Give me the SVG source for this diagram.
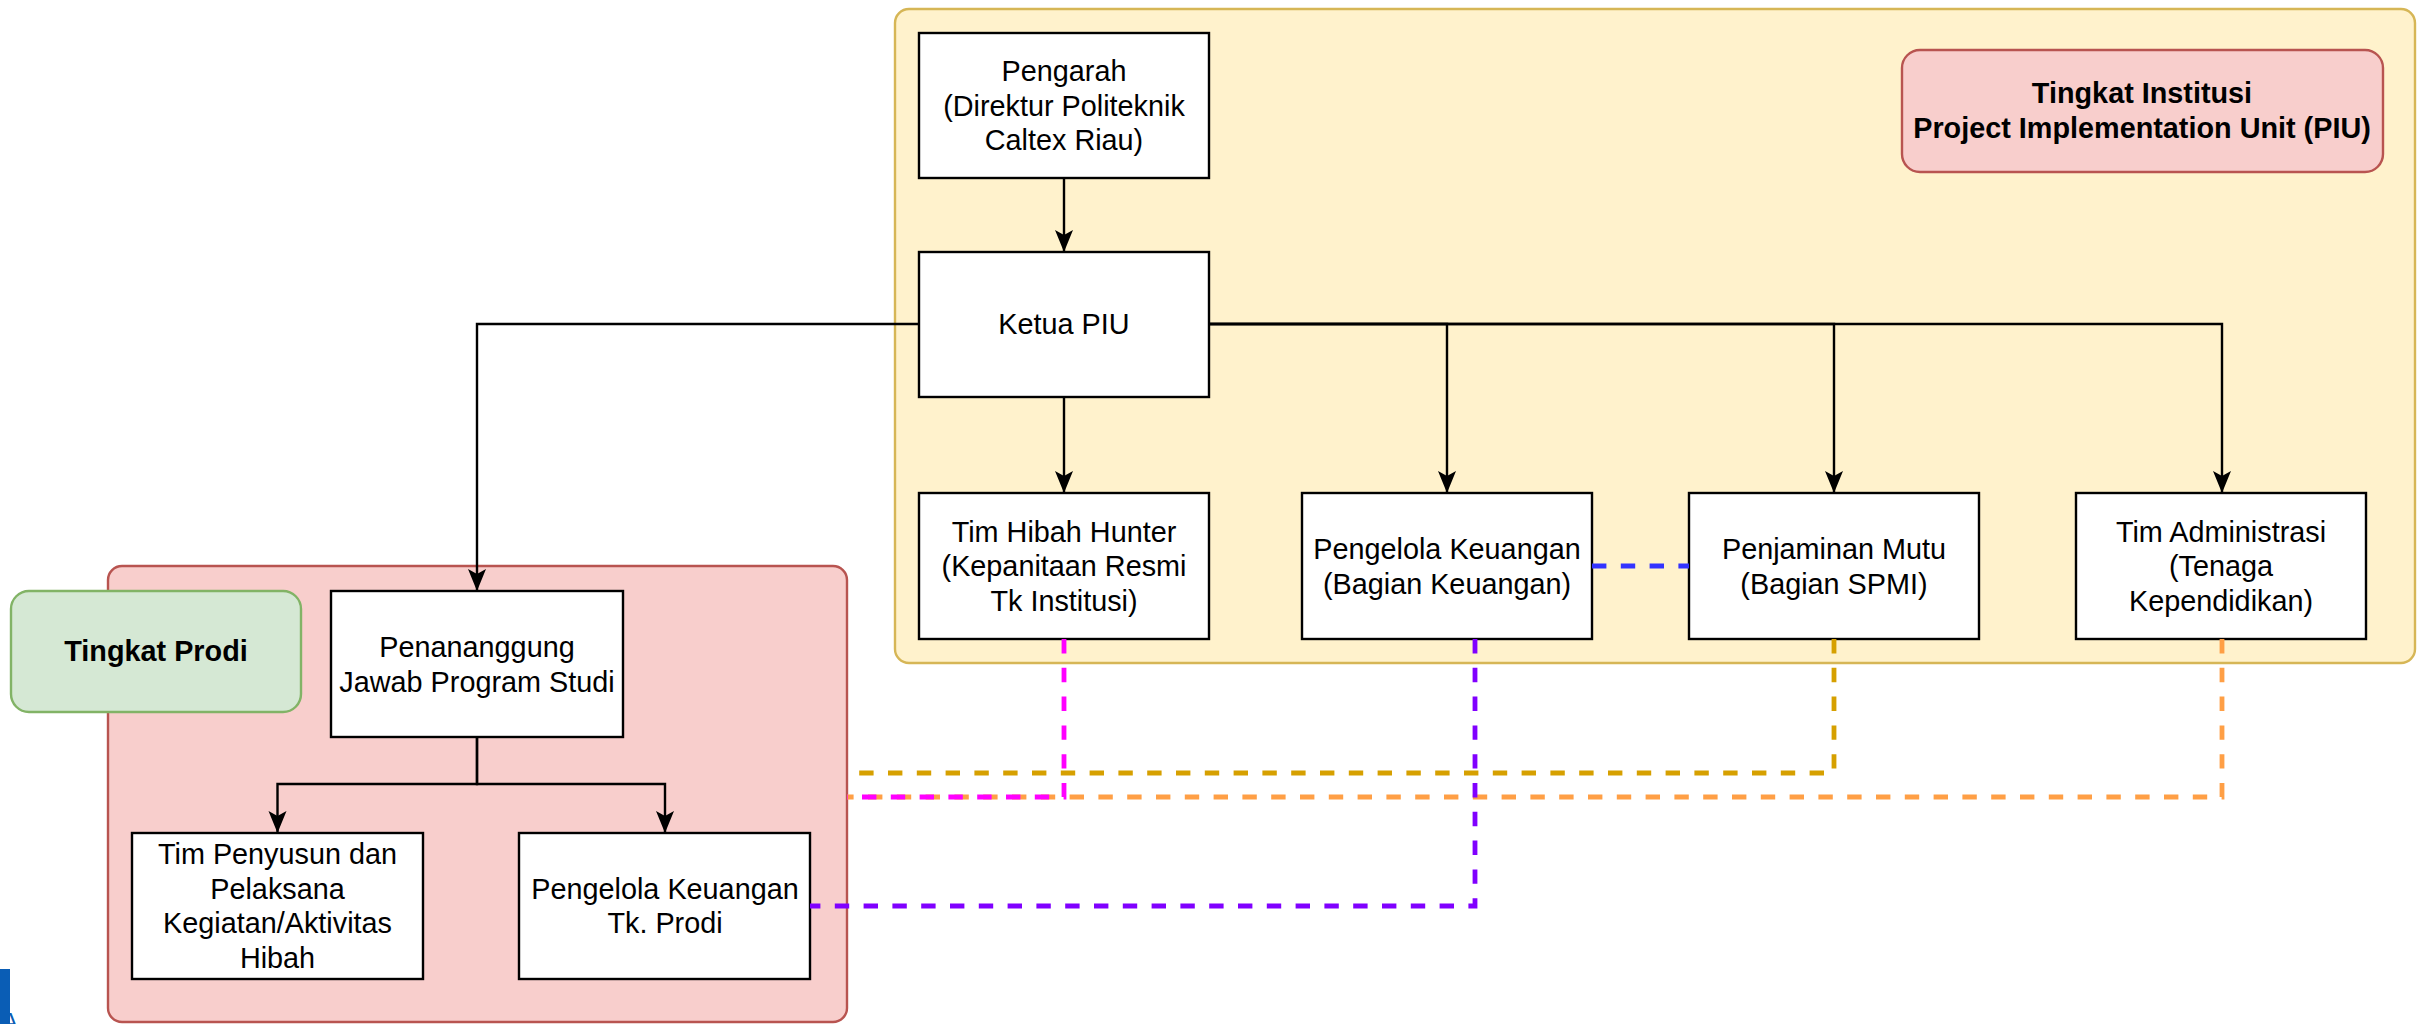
<svg xmlns="http://www.w3.org/2000/svg" width="2420" height="1024" viewBox="0 0 2420 1024">
<style>
.box{fill:#ffffff;stroke:#000000;stroke-width:2.4}
.t{font-family:"Liberation Sans",Arial,Helvetica,sans-serif;font-size:28.8px;fill:#000000;text-anchor:middle}
.b{font-weight:bold}
.con{fill:none;stroke:#000000;stroke-width:2.4}
.dash{fill:none;stroke-width:4.8;stroke-dasharray:14.4 14.4}
</style>
<defs>
<marker id="arr" markerUnits="userSpaceOnUse" markerWidth="24" markerHeight="20" refX="22" refY="9" orient="auto">
<path d="M0,0 L22,9 L0,18 L5,9 z" fill="#000000"/>
</marker>
</defs>
<rect width="2420" height="1024" fill="#ffffff"/>

<g id="container-piu">
<rect x="895" y="9" width="1520" height="654" rx="14" fill="#fff2cc" stroke="#d6b656" stroke-width="2.4"/>
</g>
<g id="container-prodi">
<rect x="108" y="566" width="739" height="456" rx="14" fill="#f8cecc" stroke="#b85450" stroke-width="2.4"/>
</g>

<g id="logo-fragment">
<rect x="0" y="969" width="10" height="55" fill="#0a5db5"/>
<text x="2" y="1030" font-family="Liberation Sans,Arial,sans-serif" font-size="24" fill="#0a5db5">A</text>
</g>

<g id="label-piu">
<rect x="1902" y="50" width="481" height="122" rx="18" fill="#f8cecc" stroke="#b85450" stroke-width="2.4"/>
<text class="t b" x="2142" y="103">Tingkat Institusi</text>
<text class="t b" x="2142" y="138">Project Implementation Unit (PIU)</text>
</g>

<g id="label-prodi">
<rect x="11" y="591" width="290" height="121" rx="18" fill="#d5e8d4" stroke="#82b366" stroke-width="2.4"/>
<text class="t b" x="156" y="661">Tingkat Prodi</text>
</g>

<g id="pengarah">
<rect class="box" x="919" y="33" width="290" height="145"/>
<text class="t" x="1064" y="81">Pengarah</text>
<text class="t" x="1064" y="115.5">(Direktur Politeknik</text>
<text class="t" x="1064" y="150">Caltex Riau)</text>
</g>

<g id="ketua-piu">
<rect class="box" x="919" y="252" width="290" height="145"/>
<text class="t" x="1064" y="334">Ketua PIU</text>
</g>

<g id="tim-hibah-hunter">
<rect class="box" x="919" y="493" width="290" height="146"/>
<text class="t" x="1064" y="541.5">Tim Hibah Hunter</text>
<text class="t" x="1064" y="576">(Kepanitaan Resmi</text>
<text class="t" x="1064" y="610.5">Tk Institusi)</text>
</g>

<g id="pengelola-keuangan">
<rect class="box" x="1302" y="493" width="290" height="146"/>
<text class="t" x="1447" y="559">Pengelola Keuangan</text>
<text class="t" x="1447" y="593.5">(Bagian Keuangan)</text>
</g>

<g id="penjaminan-mutu">
<rect class="box" x="1689" y="493" width="290" height="146"/>
<text class="t" x="1834" y="559">Penjaminan Mutu</text>
<text class="t" x="1834" y="593.5">(Bagian SPMI)</text>
</g>

<g id="tim-administrasi">
<rect class="box" x="2076" y="493" width="290" height="146"/>
<text class="t" x="2221" y="541.5">Tim Administrasi</text>
<text class="t" x="2221" y="576">(Tenaga</text>
<text class="t" x="2221" y="610.5">Kependidikan)</text>
</g>

<g id="penanggung-jawab">
<rect class="box" x="331" y="591" width="292" height="146"/>
<text class="t" x="477" y="657">Penananggung</text>
<text class="t" x="477" y="692">Jawab Program Studi</text>
</g>

<g id="tim-penyusun">
<rect class="box" x="132" y="833" width="291" height="146"/>
<text class="t" x="277.5" y="864">Tim Penyusun dan</text>
<text class="t" x="277.5" y="898.5">Pelaksana</text>
<text class="t" x="277.5" y="933">Kegiatan/Aktivitas</text>
<text class="t" x="277.5" y="967.5">Hibah</text>
</g>

<g id="pengelola-keuangan-prodi">
<rect class="box" x="519" y="833" width="291" height="146"/>
<text class="t" x="665" y="898.5">Pengelola Keuangan</text>
<text class="t" x="665" y="933">Tk. Prodi</text>
</g>

<g id="connectors">
<path class="con" d="M1064,178 V252" marker-end="url(#arr)"/>
<path class="con" d="M1064,397 V493" marker-end="url(#arr)"/>
<path class="con" d="M1209,324 H1447 V493" marker-end="url(#arr)"/>
<path class="con" d="M1209,324 H1834 V493" marker-end="url(#arr)"/>
<path class="con" d="M1209,324 H2222 V493" marker-end="url(#arr)"/>
<path class="con" d="M919,324 H477 V591" marker-end="url(#arr)"/>
<path class="con" d="M477,737 V784 H277.5 V833" marker-end="url(#arr)"/>
<path class="con" d="M477,737 V784 H665 V833" marker-end="url(#arr)"/>
<path class="dash" stroke="#3333ff" d="M1592,566 H1689"/>
<path class="dash" stroke="#d6a000" d="M1834,639 V773 H847"/>
<path class="dash" stroke="#ff9f45" d="M2222,639 V797 H847"/>
<path class="dash" stroke="#ff00ff" d="M1064,639 V797 H847"/>
<path class="dash" stroke="#8000ff" d="M1475,639 V906 H810"/>
</g>
</svg>
